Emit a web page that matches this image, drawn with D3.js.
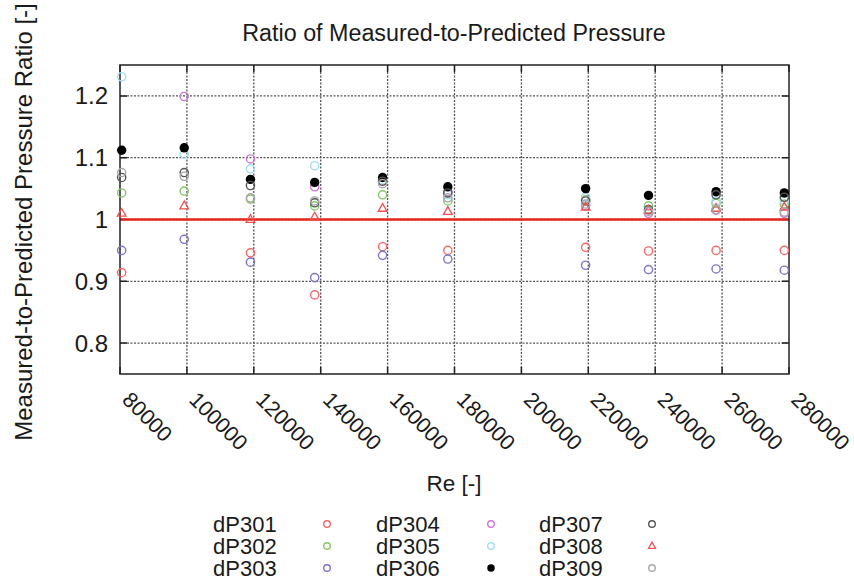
<!DOCTYPE html>
<html><head><meta charset="utf-8">
<script src="https://cdn.jsdelivr.net/npm/d3@7"></script>
<style>body{margin:0;background:#fff}svg{display:block}text{font-family:"Liberation Sans",Arial,sans-serif;fill:#1a1a1a}</style>
</head><body><svg id="c" width="854" height="584"></svg>
<script>
const reynolds = [80500, 99200, 119000, 138200, 158500, 178000, 219200, 238000, 258200, 278600];
const seriesNames = ["dP301","dP302","dP303","dP304","dP305","dP306","dP307","dP308","dP309"];
const dP301 = [0.914, null, 0.946, 0.878, 0.956, 0.950, 0.955, 0.949, 0.950, 0.950];
const dP302 = [1.043, 1.046, 1.033, 1.022, 1.040, 1.030, 1.032, 1.022, 1.026, 1.025];
const dP303 = [0.950, 0.968, 0.931, 0.906, 0.942, 0.936, 0.926, 0.919, 0.920, 0.918];
const dP304 = [null, 1.199, 1.098, 1.053, 1.062, 1.045, 1.022, 1.010, 1.015, 1.010];
const dP305 = [1.231, 1.106, 1.082, 1.087, 1.064, 1.040, 1.036, 1.015, 1.030, 1.030];
const dP306 = [1.112, 1.116, 1.065, 1.060, 1.068, 1.053, 1.050, 1.039, 1.045, 1.043];
const dP307 = [1.068, 1.076, 1.055, 1.027, 1.062, 1.043, 1.030, 1.016, 1.040, 1.036];
const dP308 = [1.010, 1.022, 1.000, 1.004, 1.018, 1.013, 1.020, 1.015, 1.018, 1.020];
const dP309 = [1.076, 1.070, 1.035, 1.030, 1.058, 1.035, 1.025, 1.013, 1.016, 1.012];
const seriesValues = [dP301,dP302,dP303,dP304,dP305,dP306,dP307,dP308,dP309];
const xTicks = [80000,100000,120000,140000,160000,180000,200000,220000,240000,260000,280000];
const yTicks = [0.8,0.9,1.0,1.1,1.2];
const yTickLabels = ["0.8","0.9","1","1.1","1.2"];
const referenceRatio = 1.0;

const colors = ["#f06a6a","#86c66a","#7f74c8","#cc78cc","#a6dcef","#000000","#555555","#f05050","#a8a8a8"];
const shapes = ["circle","circle","circle","circle","circle","filled","circle","triangle","circle"];

const svg = d3.select("#c");
const L=120,R=789,T=65,B=374;
const x = d3.scaleLinear().domain([80000,280000]).range([L,R]);
const y = d3.scaleLinear().domain([0.75,1.25]).range([B,T]);

// grid
const g = svg.append("g");
g.selectAll(".gx").data(xTicks.filter(d=>d>80000&&d<280000)).join("line")
 .attr("x1",d=>x(d)).attr("x2",d=>x(d)).attr("y1",T).attr("y2",B)
 .attr("stroke","#555").attr("stroke-width",1.3).attr("stroke-dasharray","2,1.5");
g.selectAll(".gy").data(yTicks).join("line")
 .attr("y1",d=>y(d)).attr("y2",d=>y(d)).attr("x1",L).attr("x2",R)
 .attr("stroke","#555").attr("stroke-width",1.3).attr("stroke-dasharray","2,1.5");

// ticks (inward, mirrored)
const tl=7;
g.selectAll(".tx").data(xTicks).join("path")
 .attr("d",d=>`M${x(d)},${B}v${-tl}M${x(d)},${T}v${tl}`).attr("stroke","#222").attr("stroke-width",1.5);
g.selectAll(".ty").data(yTicks).join("path")
 .attr("d",d=>`M${L},${y(d)}h${tl}M${R},${y(d)}h${-tl}`).attr("stroke","#222").attr("stroke-width",1.5);

// reference line
svg.append("line").attr("x1",L).attr("x2",R).attr("y1",y(referenceRatio)).attr("y2",y(referenceRatio))
 .attr("stroke","#e8261e").attr("stroke-width",2.5);

// border
svg.append("rect").attr("x",L).attr("y",T).attr("width",R-L).attr("height",B-T)
 .attr("fill","none").attr("stroke","#222").attr("stroke-width",1.5);

function drawMarker(sel, i, cx, cy, scale){
  const s=scale||1;
  if(shapes[i]==="filled"){
    sel.append("circle").attr("cx",cx).attr("cy",cy).attr("r",4.7*s).attr("fill",colors[i]);
  } else if(shapes[i]==="triangle"){
    const r=4.8*s;
    sel.append("path").attr("d",`M${cx},${cy-r}L${cx+r*0.9},${cy+r*0.6}L${cx-r*0.9},${cy+r*0.6}Z`)
      .attr("fill","none").attr("stroke",colors[i]).attr("stroke-width",1.3);
  } else {
    sel.append("circle").attr("cx",cx).attr("cy",cy).attr("r",4.1*s).attr("fill","none")
      .attr("stroke",colors[i]).attr("stroke-width",1.4);
  }
}

const pts = svg.append("g");
seriesValues.forEach((vals,i)=>{
  vals.forEach((v,j)=>{ if(v!=null) drawMarker(pts,i,x(reynolds[j]),y(v)); });
});

// axis labels
svg.selectAll(".yl").data(yTicks).join("text")
 .attr("x",108).attr("y",d=>y(d)+8.5).attr("text-anchor","end").attr("font-size",24)
 .text((d,i)=>yTickLabels[i]);
svg.selectAll(".xl").data(xTicks).join("text")
 .attr("transform",d=>`translate(${x(d)+1},401) rotate(45)`).attr("font-size",21.5)
 .text(d=>d3.format("d")(d));

svg.append("text").attr("x",454).attr("y",41).attr("text-anchor","middle").attr("font-size",23.3)
 .text("Ratio of Measured-to-Predicted Pressure");
svg.append("text").attr("transform","translate(32,222) rotate(-90)").attr("text-anchor","middle").attr("font-size",24)
 .text("Measured-to-Predicted Pressure Ratio [-]");
svg.append("text").attr("x",454).attr("y",491).attr("text-anchor","middle").attr("font-size",22.5).text("Re [-]");

// legend
const lg = svg.append("g");
const colX=[213,376,539], mkX=[327,491,652], rowY=[524,546,568];
seriesNames.forEach((n,i)=>{
  const c=Math.floor(i/3), r=i%3;
  lg.append("text").attr("x",colX[c]).attr("y",rowY[r]+8).attr("font-size",22).text(n);
  drawMarker(lg,i,mkX[c],rowY[r],0.8);
});
</script></body></html>
